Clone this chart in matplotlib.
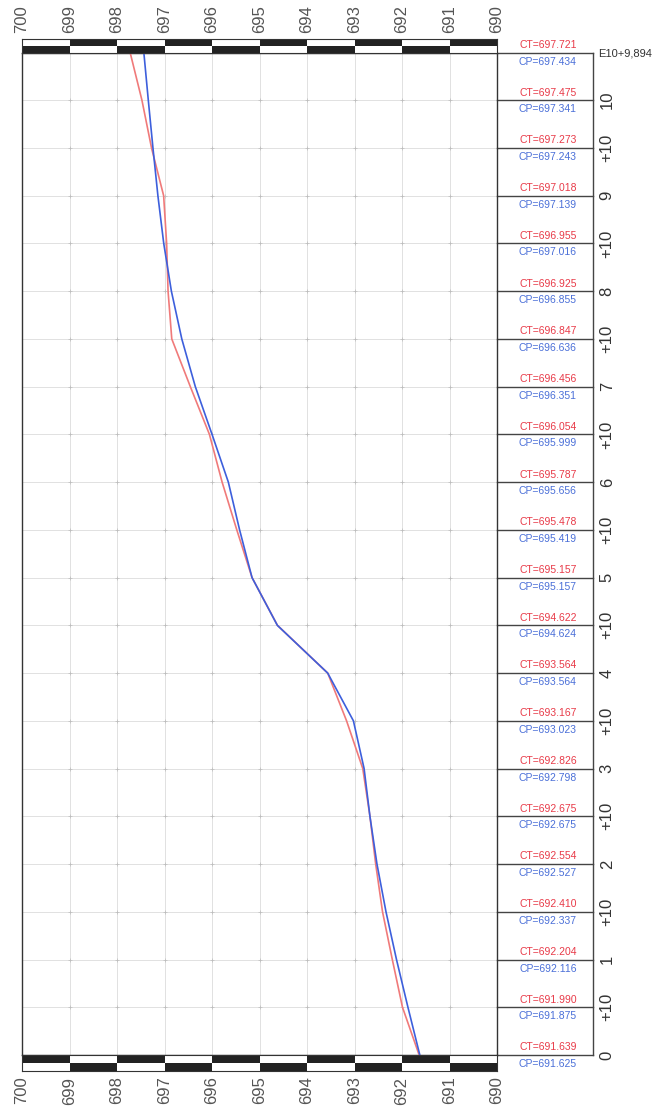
import matplotlib
matplotlib.use("Agg")
import matplotlib.pyplot as plt
import matplotlib.transforms as mtransforms
import numpy as np

plt.rcParams['font.family'] = ['Liberation Sans Narrow', 'Liberation Sans', 'DejaVu Sans']

# chainage in metres (stations of 20 m)
CHAINAGE = [0, 10, 20, 30, 40, 50, 60, 70, 80, 90, 100,
            110, 120, 130, 140, 150, 160, 170, 180, 190, 200, 209.894]
CHAIN_LABELS = ["0", "+10", "1", "+10", "2", "+10", "3", "+10", "4", "+10", "5",
                "+10", "6", "+10", "7", "+10", "8", "+10", "9", "+10", "10", "E10+9,894"]
CP = [691.625, 691.875, 692.116, 692.337, 692.527, 692.675, 692.798, 693.023,
      693.564, 694.624, 695.157, 695.419, 695.656, 695.999, 696.351, 696.636,
      696.855, 697.016, 697.139, 697.243, 697.341, 697.434]
CT = [691.639, 691.990, 692.204, 692.410, 692.554, 692.675, 692.826, 693.167,
      693.564, 694.622, 695.157, 695.478, 695.787, 696.054, 696.456, 696.847,
      696.925, 696.955, 697.018, 697.273, 697.475, 697.721]
ELEV_TICKS = list(range(690, 701))

W, H = 652, 1112
RED = "#f07a7a"
BLUE = "#3d5fdc"
GRID = "#dcdcdc"

fig = plt.figure(figsize=(W / 100, H / 100), dpi=100)
fig.patch.set_facecolor("white")

# main profile axes (pixels: x 22..497, y 53..1055 from top)
left, right, top, bottom = 22, 497, 53, 1055
ax = fig.add_axes([left / W, 1 - bottom / H, (right - left) / W, (bottom - top) / H])
ax.set_xlim(700, 690)
ax.set_ylim(0, CHAINAGE[-1])
ax.set_xticks([])
ax.set_yticks([])
for s in ax.spines.values():
    s.set_color("#333333")
    s.set_linewidth(1.0)

for e in ELEV_TICKS[1:-1]:
    ax.axvline(e, color=GRID, lw=0.6, zorder=1)
for c in CHAINAGE[1:-1]:
    ax.axhline(c, color=GRID, lw=0.6, zorder=1)
gx, gy = np.meshgrid(ELEV_TICKS[1:-1], CHAINAGE[1:-1])
ax.scatter(gx.ravel(), gy.ravel(), marker="+", s=8, color="#bdbdbd", lw=0.5, zorder=1)

ax.plot(CT, CHAINAGE, color=RED, lw=1.2, zorder=3)
ax.plot(CP, CHAINAGE, color=BLUE, lw=1.2, zorder=4)

# table on the right
trans = mtransforms.blended_transform_factory(ax.transAxes, ax.transData)
tab_r = (593 - left) / (right - left)
ax.plot([tab_r, tab_r], [0, CHAINAGE[-1]], color="#444444", lw=1.0,
        transform=trans, clip_on=False)
for i, c in enumerate(CHAINAGE):
    ax.plot([1, tab_r], [c, c], color="#444444", lw=1.0, transform=trans, clip_on=False)
    ax.annotate("CT=%.3f" % CT[i], xy=(1.168, c), xycoords=trans,
                xytext=(0, 5.5), textcoords="offset points", ha="right", va="center",
                fontsize=7.5, color="#e83a48")
    ax.annotate("CP=%.3f" % CP[i], xy=(1.168, c), xycoords=trans,
                xytext=(0, -6.5), textcoords="offset points", ha="right", va="center",
                fontsize=7.5, color="#4a6fd8")
    if i < len(CHAINAGE) - 1:
        ax.text(1.232, c, CHAIN_LABELS[i], transform=trans, rotation=90,
                ha="center", va="center", fontsize=12, color="#333333")
    else:
        ax.text(1.212, c, CHAIN_LABELS[i], transform=trans,
                ha="left", va="center", fontsize=8, color="#333333")

# checkered bands at top and bottom
segs = ELEV_TICKS[:-1]
inner = ["#222222" if (700 - e) % 2 == 1 else "white" for e in segs]
outer = ["white" if (700 - e) % 2 == 1 else "#222222" for e in segs]

def band(y0, y1, inner_row_on_top, labels_pos):
    bx = fig.add_axes([left / W, 1 - y1 / H, (right - left) / W, (y1 - y0) / H])
    bx.set_xlim(700, 690)
    bx.set_ylim(0, 2)
    lo, hi = (inner, outer) if not inner_row_on_top else (outer, inner)
    bx.bar(segs, 1, width=1, bottom=0, align="edge", color=lo, edgecolor="none")
    bx.bar(segs, 1, width=1, bottom=1, align="edge", color=hi, edgecolor="none")
    bx.set_yticks([])
    bx.set_xticks(ELEV_TICKS)
    bx.set_xticklabels([str(e) for e in ELEV_TICKS], rotation=90, fontsize=12,
                       color="#555555")
    bx.tick_params(axis="x", length=0, pad=4)
    if labels_pos == "top":
        bx.xaxis.set_ticks_position("top")
        bx.xaxis.set_label_position("top")
    for s in bx.spines.values():
        s.set_color("#333333")
        s.set_linewidth(0.8)
    return bx

band(39, 53, False, "top")
band(1055, 1071, True, "bottom")

fig.savefig("out.png", dpi=100, facecolor="white")
